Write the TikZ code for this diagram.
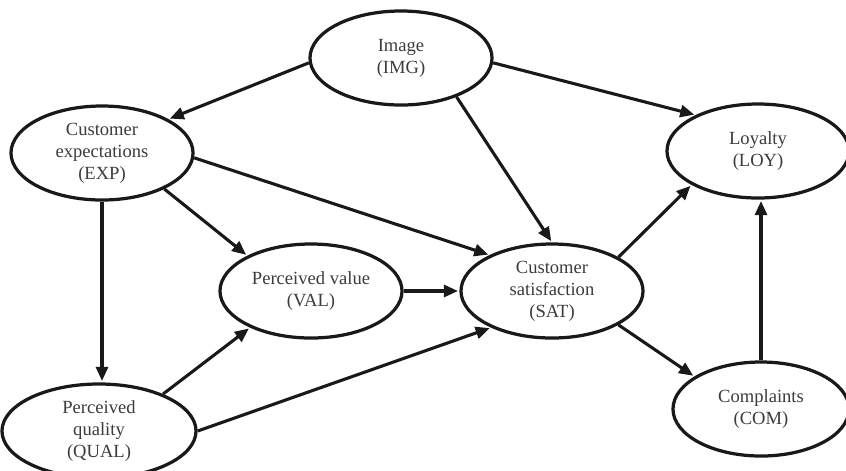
\documentclass[tikz,border=0pt]{standalone}
\usepackage{fontspec}
\setmainfont{Liberation Serif}
\usepackage{tikz}
\usetikzlibrary{arrows.meta,shapes.geometric,positioning}
\definecolor{csiText}{RGB}{60,60,60}
\definecolor{csiLine}{RGB}{25,25,25}

\begin{document}
\begin{tikzpicture}[x=0.025cm, y=-0.025cm,
  >={Triangle[length=10pt,width=8.5pt]},
  construct/.style={draw=csiLine, ellipse, line width=2.3pt, fill=white,
    minimum width=4.55cm, minimum height=2.35cm, inner sep=0pt, align=center,
    text=csiText, font=\fontsize{13.2}{15.6}\selectfont},
  path/.style={->, draw=csiLine, line width=2.2pt, shorten >=1pt}]
\useasboundingbox (0,0) rectangle (846,470);
\clip (0,0) rectangle (846,470);
\node[construct] (img) at (401,58) {Image\\(IMG)};
\node[construct] (exp) at (102,153) {Customer\\expectations\\(EXP)};
\node[construct] (loy) at (758,151) {Loyalty\\(LOY)};
\node[construct] (val) at (311,291) {Perceived value\\(VAL)};
\node[construct] (sat) at (552,291) {Customer\\satisfaction\\(SAT)};
\node[construct, minimum width=4.85cm] (qual) at (99,431) {Perceived\\quality\\(QUAL)};
\node[construct, minimum width=4.4cm] (com) at (761,409) {Complaints\\(COM)};
\draw[path] (img.183) -- (exp.27);
\draw[path] (img.-35) -- (sat.90);
\draw[path] (img.-3) -- (loy.150);
\draw[path] (exp.-3) -- (sat.150);
\draw[path] (exp.-30) -- (val.151);
\draw[path] (exp.south) -- (exp.south |- qual.north);
\draw[path] (val.east) -- (sat.west);
\draw[path] (qual.30) -- (val.211);
\draw[path] (qual.0) -- (sat.211);
\draw[path] (sat.27) -- (loy.207);
\draw[path] (sat.-27) -- (com.154);
\draw[path] (com.north) -- (com.north |- loy.south);
\end{tikzpicture}
\end{document}
